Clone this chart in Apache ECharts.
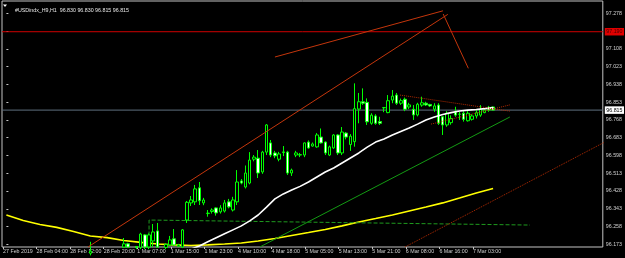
<!DOCTYPE html>
<html><head><meta charset="utf-8">
<script src="https://cdn.jsdelivr.net/npm/echarts@6/dist/echarts.min.js"></script>
<style>html,body{margin:0;padding:0;background:#000}#c{width:625px;height:258px}</style>
</head><body><div id="c"></div>
<script>
const titleText = '#USDindx_H9,H1  96.830 96.830 96.815 96.815';
const firstBar = 20;
// [open, close, low, high] per hourly bar starting at firstBar; null = below visible range
const ohlc = [
[96.130,96.140,96.120,96.185],null,null,null,null,null,null,null,
[96.160,96.175,96.155,96.203],[96.175,96.160,96.155,96.180],null,[96.162,96.158,96.150,96.164],
[96.158,96.222,96.150,96.228],[96.218,96.160,96.150,96.222],[96.160,96.218,96.150,96.225],[96.189,96.232,96.160,96.270],
[96.237,96.160,96.155,96.275],null,[96.158,96.172,96.150,96.178],[96.170,96.194,96.165,96.213],
[96.199,96.170,96.165,96.246],[96.163,96.170,96.160,96.175],[96.160,96.242,96.155,96.246],[96.289,96.374,96.275,96.380],
[96.371,96.385,96.356,96.404],[96.376,96.438,96.361,96.457],[96.443,96.381,96.361,96.471],[96.371,96.385,96.360,96.395],
[96.320,96.322,96.305,96.337],[96.330,96.337,96.320,96.345],[96.347,96.323,96.310,96.350],[96.328,96.347,96.320,96.360],
[96.332,96.371,96.325,96.385],[96.376,96.352,96.345,96.390],[96.337,96.385,96.330,96.400],[96.376,96.471,96.361,96.528],
[96.476,96.466,96.460,96.485],[96.447,96.514,96.440,96.550],[96.466,96.576,96.460,96.614],[96.580,96.590,96.570,96.600],
[96.585,96.514,96.490,96.624],[96.519,96.614,96.510,96.620],[96.614,96.744,96.600,96.748],[96.658,96.600,96.590,96.672],
[96.610,96.596,96.585,96.620],[96.580,96.605,96.570,96.615],[96.612,96.615,96.595,96.643],[96.614,96.514,96.505,96.620],
[96.514,96.528,96.500,96.535],[96.600,96.610,96.590,96.620],[96.600,96.602,96.590,96.610],[96.600,96.658,96.590,96.660],
[96.662,96.634,96.630,96.670],[96.643,96.653,96.640,96.660],[96.639,96.696,96.635,96.705],[96.686,96.658,96.655,96.727],
[96.662,96.610,96.600,96.665],[96.600,96.639,96.595,96.645],[96.634,96.696,96.630,96.700],[96.696,96.610,96.600,96.700],
[96.610,96.710,96.600,96.734],[96.705,96.686,96.675,96.710],[96.650,96.690,96.620,96.700],[96.664,96.822,96.640,96.943],
[96.820,96.855,96.752,96.897],[96.855,96.848,96.840,96.919],[96.852,96.759,96.744,96.871],[96.752,96.791,96.745,96.800],
[96.787,96.752,96.745,96.795],[96.760,96.752,96.744,96.783],[96.826,96.827,96.805,96.830],[96.803,96.860,96.800,96.887],
[96.863,96.882,96.848,96.911],[96.887,96.848,96.840,96.897],[96.848,96.860,96.840,96.870],[96.867,96.819,96.810,96.875],
[96.830,96.840,96.820,96.850],[96.819,96.792,96.768,96.839],[96.792,96.843,96.785,96.850],[96.839,96.850,96.831,96.879],
[96.848,96.840,96.835,96.855],[96.842,96.835,96.830,96.845],[96.819,96.835,96.807,96.848],[96.839,96.752,96.744,96.848],
[96.783,96.744,96.696,96.785],[96.744,96.800,96.735,96.810],[96.755,96.775,96.745,96.790],[96.806,96.791,96.783,96.831],
[96.795,96.796,96.768,96.806],[96.800,96.771,96.760,96.810],[96.764,96.800,96.760,96.810],[96.771,96.787,96.765,96.795],
[96.787,96.803,96.775,96.815],[96.791,96.819,96.783,96.839],[96.803,96.815,96.800,96.820],[96.828,96.815,96.807,96.835],
[96.830,96.815,96.815,96.830]
];
const timeLabelBars = [0,8,16,24,32,40,48,56,64,72,80,88,96,104,112];
const timeLabels = ['27 Feb 2019','28 Feb 04:00','28 Feb 12:00','28 Feb 20:00','1 Mar 07:00','1 Mar 15:00','1 Mar 23:00','4 Mar 10:00','4 Mar 18:00','5 Mar 05:00','5 Mar 13:00','5 Mar 21:00','6 Mar 08:00','6 Mar 16:00','7 Mar 03:00'];
const priceTicks = [96.173,96.258,96.343,96.428,96.513,96.598,96.683,96.768,96.853,96.938,97.023,97.108,97.193,97.278];
const priceLabels = [96.173,96.258,96.343,96.428,96.513,96.598,96.683,96.768,96.853,96.938,97.023,97.108,97.278];
const yellowBars = [0,4,8,12,16,20,24,28,32,36,40,44,48,52,56,60,64,68,72,76,80,84,88,92,96,100,104,108,112,116];
const yellowVals = [96.313,96.287,96.268,96.254,96.234,96.213,96.205,96.191,96.182,96.174,96.170,96.167,96.170,96.174,96.179,96.189,96.201,96.215,96.229,96.244,96.261,96.280,96.296,96.313,96.332,96.351,96.371,96.394,96.418,96.440];
const whiteBars = [44,46,48,50,52,54,56,58,60,62,64,66,68,70,72,74,76,78,80,82,84,86,88,90,92,94,96,98,100,102,104,106,108,110,112,114,116];
const whiteVals = [96.150,96.165,96.185,96.204,96.223,96.242,96.261,96.285,96.313,96.351,96.390,96.414,96.433,96.450,96.471,96.495,96.519,96.538,96.562,96.586,96.610,96.638,96.662,96.677,96.696,96.713,96.729,96.748,96.768,96.782,96.794,96.803,96.811,96.815,96.818,96.822,96.827];
const redLevel = 97.190;
const bidLevel = 96.815;
const trendLong = [[19.45,96.160],[105.2,97.273]];
const trendShort = [[64.0,97.069],[104.05,97.290]];
const trendDown = [[104.1,97.275],[110.1,97.015]];
const greenChannel = [[60.4,96.160],[120.0,96.782]];
const dottedLow = [[95.0,96.160],[150.0,96.740]];
const wedgeUpper = [[93.8,96.887],[120.0,96.810]];
const wedgeLower = [[101.2,96.748],[120.0,96.840]];
const dashedBox = [[34.0,96.100],[34.0,96.289],[124.8,96.265]];

const X_MIN = -1.05, X_MAX = 142.15;
const TICK_OFF = 0.8;
const candleData = [];
ohlc.forEach((r,k)=>{ if(r) candleData.push([firstBar+k, r[0], r[1], r[2], r[3]]); });
const pairs = (a,b)=>a.map((x,i)=>[x,b[i]]);
const font = 'Liberation Sans, Arial, sans-serif';
const chart = echarts.init(document.getElementById('c'), null, {renderer:'canvas'});
const lineS = (data,color,type,width,z)=>({type:'line',data,symbol:'none',silent:true,animation:false,z:z||3,
  lineStyle:{color,width:width||1,type:type||'solid'}});
const levelS = (level,color,bg,txt,z)=>({type:'line',data:[[X_MIN,level],[X_MAX,level]],symbol:'none',silent:true,animation:false,z:z,clip:false,
  lineStyle:{color:color,width:1,type:'solid'},
  endLabel:{show:true,distance:2,formatter:level.toFixed(3),backgroundColor:bg,color:txt,fontSize:5.3,fontFamily:font,padding:[1.5,1.5,1,1.5]}});
chart.setOption({
  backgroundColor:'#000',
  animation:false,
  title:{text:titleText,left:10,top:3,textStyle:{color:'#e8e8e8',fontSize:5.3,fontWeight:'normal',fontFamily:font}},
  graphic:[{type:'polygon',shape:{points:[[3,4.5],[7,4.5],[5,7]]},style:{fill:'#ffffff'}}],
  grid:{left:2,right:22,top:1,bottom:11,show:true,borderColor:'#c4c4c4',borderWidth:1,backgroundColor:'#000'},
  xAxis:{type:'value',min:X_MIN,max:X_MAX,
    axisLine:{show:false},splitLine:{show:false},
    axisTick:{show:true,length:2,lineStyle:{color:'#c4c4c4'},customValues:timeLabelBars.map(b=>b-TICK_OFF)},
    axisLabel:{show:true,customValues:timeLabelBars.map(b=>b-TICK_OFF),align:'left',margin:2,color:'#d0d0d0',fontSize:5.3,fontFamily:font,
      formatter:v=>{const i=timeLabelBars.indexOf(Math.round(v+TICK_OFF));return i>=0?timeLabels[i]:'';}}},
  yAxis:{type:'value',position:'right',min:96.160,max:97.337,scale:true,
    axisLine:{show:false},splitLine:{show:false},
    axisTick:{show:true,inside:false,length:2,lineStyle:{color:'#c4c4c4'},customValues:priceTicks},
    axisLabel:{show:true,customValues:priceLabels,margin:3,color:'#d0d0d0',fontSize:5.3,fontFamily:font,formatter:v=>v.toFixed(3)}},
  series:[
    levelS(redLevel,'#d00000','#e00000','#4a0000',1),
    levelS(bidLevel,'#5f6f7f','#ffffff','#000000',1),
    lineS(pairs(yellowBars,yellowVals),'#ffff00','solid',1.6,2),
    lineS(dashedBox,'#1e9a1e','dashed',1,2),
    {type:'candlestick',data:candleData,barWidth:3,z:4,silent:true,animation:false,
      itemStyle:{color:'#000000',color0:'#ffffff',borderColor:'#00ff00',borderColor0:'#00ff00',borderWidth:1}},
    lineS(pairs(whiteBars,whiteVals),'#ffffff','solid',1.6,5),
    lineS(trendLong,'#c4360c','solid',1,6),
    lineS(trendShort,'#c4360c','solid',1,6),
    lineS(trendDown,'#c4360c','solid',1,6),
    lineS(greenChannel,'#139a13','solid',1,6),
    lineS(dottedLow,'#b02a00','dotted',1,6),
    lineS(wedgeUpper,'#b02a00','dotted',1,6),
    lineS(wedgeLower,'#b02a00','dotted',1,6)
  ]
});
</script></body></html>
